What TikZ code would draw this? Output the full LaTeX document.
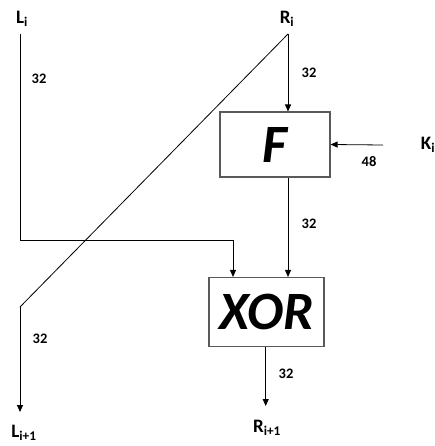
\documentclass[tikz,border=0pt]{standalone}
\usepackage{fontspec}
\setmainfont{Carlito}
\usetikzlibrary{arrows.meta}
\tikzset{
  conn/.style={line width=0.8pt, draw=black},
  arr/.style={conn, -{Triangle[length=7pt,width=6pt]}},
  blockbox/.style={draw=black!65, line width=1.1pt, fill=white, inner sep=0pt},
  bitlbl/.style={font=\bfseries\fontsize{14.5}{16}\selectfont, inner sep=0pt},
  io/.style={font=\bfseries\fontsize{19}{21}\selectfont, inner sep=0pt},
  big/.style={font=\bfseries\itshape\fontsize{54}{58}\selectfont}
}
\begin{document}
\begin{tikzpicture}[x=1pt,y=-1pt]
\useasboundingbox (0,0) rectangle (435,446);
% labels
\node[io] (Li) at (22,19) {L\textsubscript{i}};
\node[io] (Ri) at (287,19) {R\textsubscript{i}};
\node[io] (Ki) at (428,145) {K\textsubscript{i}};
\node[io] (Lo) at (24,433) {L\textsubscript{i+1}};
\node[io] (Ro) at (267,428) {R\textsubscript{i+1}};
% boxes
\node[blockbox, minimum width=110pt, minimum height=65pt, big] (F) at (275,144.5) {F};
\node[blockbox, minimum width=115pt, minimum height=69pt, big] (X) at (266.5,312) {XOR};
% coordinates
\coordinate (ltop) at (20,34);
\coordinate (lcorner) at (20,240);
\coordinate (xin) at (233,240);
\coordinate (rtop) at (288,34);
\coordinate (dcorner) at (20,307);
\coordinate (lend) at (20,412);
\coordinate (kstart) at (383,145);
\coordinate (rend) at (265.7,406);
% connectors
\draw[arr] (ltop) -- (lcorner) -- (xin) -- (xin |- X.north);
\draw[arr] (rtop) -- (rtop |- F.north);
\draw[conn] (rtop) -- (dcorner);
\draw[arr] (dcorner) -- (lend);
\draw[arr] (kstart) -- (F.east);
\draw[arr] (F.south -| rtop) -- (rtop |- X.north);
\draw[arr] (X.south -| rend) -- (rend);
% bit widths
\node[bitlbl] (b1) at (39,79) {32};
\node[bitlbl] (b2) at (309,73) {32};
\node[bitlbl] (b3) at (369,162) {48};
\node[bitlbl] (b4) at (309,224) {32};
\node[bitlbl] (b5) at (40,339) {32};
\node[bitlbl] (b6) at (286,374) {32};
\end{tikzpicture}
\end{document}
